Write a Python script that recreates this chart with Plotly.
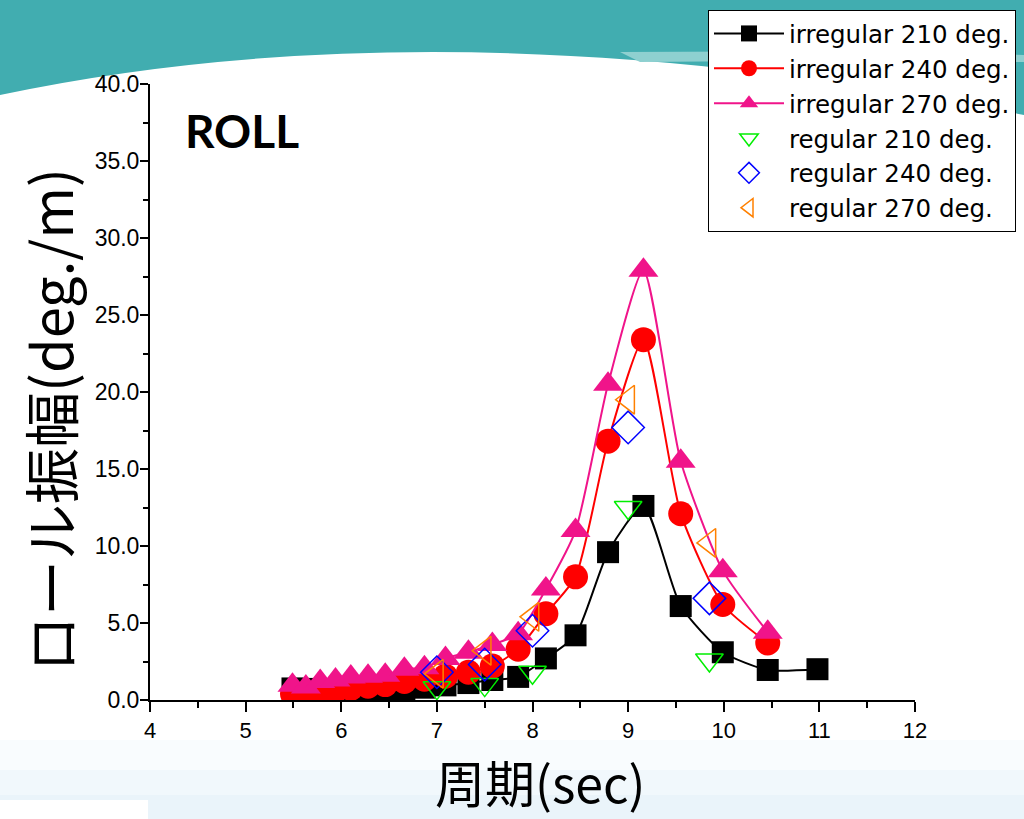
import plotly.graph_objects as go

# ---------------- data ----------------
irr_period = [5.49, 5.63, 5.78, 5.94, 6.10, 6.28, 6.46, 6.66, 6.87, 7.09,
              7.33, 7.58, 7.85, 8.14, 8.45, 8.79, 9.16, 9.55, 9.99, 10.46]
irr210_period = irr_period + [10.98]
irr210 = [0.75, 0.72, 0.68, 0.65, 0.62, 0.62, 0.65, 0.7, 0.8, 0.95,
          1.1, 1.3, 1.5, 2.7, 4.2, 9.6, 12.6, 6.1, 3.1, 1.95, 2.0]
irr240 = [0.4, 0.45, 0.5, 0.6, 0.75, 0.9, 1.0, 1.2, 1.35, 1.55,
          1.8, 2.2, 3.3, 5.6, 8.0, 16.8, 23.4, 12.1, 6.2, 3.7]
irr270 = [0.95, 0.85, 1.2, 1.3, 1.5, 1.55, 1.6, 2.0, 2.1, 2.7,
          3.1, 3.6, 4.3, 7.2, 11.0, 20.5, 27.9, 15.5, 8.4, 4.4]

reg_period = [7.0, 7.5, 8.0, 9.0, 9.85]
reg210 = [0.8, 1.0, 1.8, 12.5, 2.6]
reg240 = [1.8, 2.3, 4.5, 17.7, 6.6]
reg270 = [1.7, 3.2, 5.4, 19.5, 10.2]

x_ticks = [4, 5, 6, 7, 8, 9, 10, 11, 12]
y_ticks = [0, 5, 10, 15, 20, 25, 30, 35, 40]

x_title = "周期(sec)"
y_title = "ロール振幅(deg./m)"

# ---------------- figure ----------------
W, H = 1024, 819
ML, MR, MT, MB = 150, 109, 84, 119
PW, PH = W - ML - MR, H - MT - MB


def px(x):
    return (x - ML) / PW


def py(y):
    return (H - MB - y) / PH


fig = go.Figure()

fig.add_trace(go.Scatter(
    x=irr210_period, y=irr210, name="irregular 210 deg.", mode="lines+markers",
    line=dict(color="black", width=2, shape="spline", smoothing=0.6),
    marker=dict(symbol="square", size=22, color="black")))
fig.add_trace(go.Scatter(
    x=irr_period, y=irr240, name="irregular 240 deg.", mode="lines+markers",
    line=dict(color="#FF0000", width=2, shape="spline", smoothing=0.6),
    marker=dict(symbol="circle", size=25, color="#FF0000")))
fig.add_trace(go.Scatter(
    x=irr_period, y=irr270, name="irregular 270 deg.", mode="lines+markers",
    line=dict(color="#F0148A", width=2, shape="spline", smoothing=0.6),
    marker=dict(symbol="triangle-up", size=26, color="#F0148A")))
fig.add_trace(go.Scatter(
    x=reg_period, y=reg210, name="regular 210 deg.", mode="markers",
    marker=dict(symbol="triangle-down-open", size=24, color="#00EE00",
                line=dict(width=1.5, color="#00EE00"))))
fig.add_trace(go.Scatter(
    x=reg_period, y=reg240, name="regular 240 deg.", mode="markers",
    marker=dict(symbol="diamond-open", size=25, color="#0000FF",
                line=dict(width=1.5, color="#0000FF"))))
fig.add_trace(go.Scatter(
    x=reg_period, y=reg270, name="regular 270 deg.", mode="markers",
    marker=dict(symbol="triangle-left-open", size=25, color="#FF8000",
                line=dict(width=1.5, color="#FF8000"))))

# slide decoration: teal banner and pale bottom band
banner = (f"M {px(0)},{py(0)} L {px(W)},{py(0)} L {px(W)},{py(115)} "
          f"Q {px(450)},{py(0)} {px(0)},{py(95)} Z")
shapes = [
    dict(type="path", path=banner, xref="paper", yref="paper",
         fillcolor="#41ADB0", line=dict(width=0), layer="below"),
    dict(type="path",
         path=(f"M {px(620)},{py(52)} Q {px(850)},{py(50)} {px(W)},{py(55)} "
               f"L {px(W)},{py(62)} Q {px(850)},{py(60)} {px(640)},{py(62)} Z"),
         xref="paper", yref="paper", fillcolor="#8ED0D0",
         line=dict(width=0), layer="below"),
]
bands = [(740, "#F9FCFE"), (770, "#F1F8FC"), (795, "#EAF4FA")]
for top, col in bands:
    shapes.append(dict(type="rect", xref="paper", yref="paper",
                       x0=px(0), x1=px(W), y0=py(H), y1=py(top),
                       fillcolor=col, line=dict(width=0), layer="below"))
shapes.append(dict(type="rect", xref="paper", yref="paper",
                   x0=px(0), x1=px(148), y0=py(H), y1=py(800),
                   fillcolor="white", line=dict(width=0), layer="below"))

annotations = [
    dict(text="<b>ROLL</b>", x=px(242), y=py(130), xref="paper", yref="paper",
         showarrow=False, xanchor="center", yanchor="middle",
         font=dict(family="Lato", size=46, color="black")),
    dict(text=x_title, x=px(540), y=py(781), xref="paper", yref="paper",
         showarrow=False, xanchor="center", yanchor="middle",
         font=dict(family="Noto Sans CJK JP", size=50, color="black")),
    dict(text=y_title, x=px(48), y=py(420), xref="paper", yref="paper",
         showarrow=False, xanchor="center", yanchor="middle", textangle=-90,
         font=dict(family="Noto Sans CJK JP", size=56, color="black")),
]

fig.update_layout(
    width=W, height=H,
    margin=dict(l=ML, r=MR, t=MT, b=MB, autoexpand=False),
    paper_bgcolor="white", plot_bgcolor="rgba(0,0,0,0)",
    shapes=shapes,
    annotations=annotations,
    showlegend=True,
    legend=dict(x=px(708), y=py(10), xanchor="left", yanchor="top",
                bgcolor="white", bordercolor="black", borderwidth=1,
                font=dict(family="DejaVu Sans", size=24.5, color="black"),
                itemwidth=70, tracegroupgap=0),
    xaxis=dict(range=[4, 12], tickvals=x_ticks, ticktext=[str(v) for v in x_ticks],
               showgrid=False, zeroline=False, showline=True, linecolor="black",
               linewidth=2, ticks="outside", ticklen=10, tickwidth=1.5, tickcolor="black",
               minor=dict(dtick=0.5, ticks="outside", ticklen=6, tickcolor="black", tickwidth=1.5),
               tickfont=dict(family="Liberation Sans", size=22, color="black"),
               automargin=False),
    yaxis=dict(range=[0, 40], tickvals=y_ticks, ticktext=[f"{v:.1f}" for v in y_ticks],
               showgrid=False, zeroline=False, showline=True, linecolor="black",
               linewidth=2, ticks="outside", ticklen=8, tickwidth=1.5, tickcolor="black",
               minor=dict(dtick=2.5, ticks="outside", ticklen=5, tickcolor="black", tickwidth=1.5),
               tickfont=dict(family="Liberation Sans", size=23, color="black"),
               ticklabelstandoff=-4,
               automargin=False),
)

fig.write_html("out.html", config={"displayModeBar": False},
               post_script="document.body.style.margin='0';document.body.style.padding='0';")
